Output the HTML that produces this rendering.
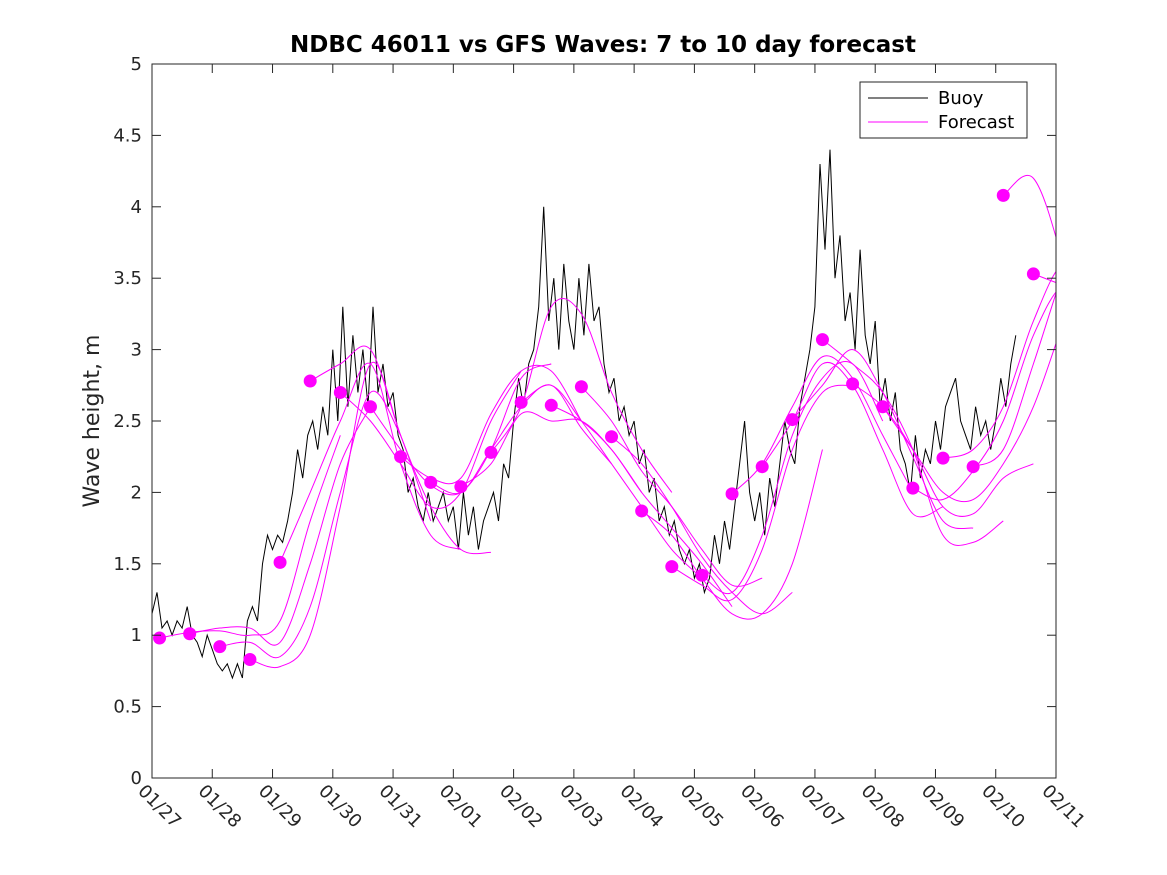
<!DOCTYPE html>
<html><head><meta charset="utf-8"><style>
body{margin:0;background:#fff;}
svg{display:block;font-family:"DejaVu Sans","Liberation Sans",sans-serif;}
</style></head><body>
<svg id="chart" width="1167" height="875" viewBox="0 0 1167 875">
<rect width="1167" height="875" fill="#fff"/>
<defs><clipPath id="plotclip"><rect x="152" y="64" width="904" height="714"/></clipPath></defs>
<rect x="152" y="64" width="904" height="714" fill="#fff"/>
<g id="series" clip-path="url(#plotclip)"></g>
<g id="axes"></g>
<text x="603" y="52" text-anchor="middle" font-size="23" font-weight="bold" fill="#000">NDBC 46011 vs GFS Waves: 7 to 10 day forecast</text>
<text transform="translate(99,421) rotate(-90)" text-anchor="middle" font-size="22" fill="#262626">Wave height, m</text>
<g>
<rect x="860" y="82" width="167" height="56" fill="#fff" stroke="#262626" stroke-width="1"/>
<line x1="868" y1="98" x2="928" y2="98" stroke="#000" stroke-width="1"/>
<text x="938" y="104" font-size="18" fill="#000">Buoy</text>
<line x1="868" y1="122" x2="928" y2="122" stroke="#ff00ff" stroke-width="1"/>
<text x="938" y="128" font-size="18" fill="#000">Forecast</text>
</g>
</svg>
<script>
// ---- data ----
const xTickLabels = ["01/27","01/28","01/29","01/30","01/31","02/01","02/02","02/03","02/04","02/05","02/06","02/07","02/08","02/09","02/10","02/11"];
const yTicks = [0,0.5,1,1.5,2,2.5,3,3.5,4,4.5,5];
const yTickLabels = ["0","0.5","1","1.5","2","2.5","3","3.5","4","4.5","5"];
const buoyStep = 1/12; // days
const buoyValues = [
1.15,1.3,1.05,1.1,1.0,1.1,1.05,1.2,1.0,0.95,0.85,1.0,
0.9,0.8,0.75,0.8,0.7,0.8,0.7,1.1,1.2,1.1,1.5,1.7,
1.6,1.7,1.65,1.8,2.0,2.3,2.1,2.4,2.5,2.3,2.6,2.4,
3.0,2.5,3.3,2.6,3.1,2.7,3.0,2.6,3.3,2.7,2.9,2.6,
2.7,2.4,2.3,2.0,2.1,1.9,1.8,2.0,1.8,1.9,2.0,1.8,
1.9,1.6,2.0,1.7,1.9,1.6,1.8,1.9,2.0,1.8,2.2,2.1,
2.5,2.8,2.6,2.9,3.0,3.3,4.0,3.2,3.5,3.0,3.6,3.2,
3.0,3.5,3.1,3.6,3.2,3.3,2.9,2.7,2.8,2.5,2.6,2.4,
2.5,2.2,2.3,2.0,2.1,1.8,1.9,1.7,1.8,1.6,1.5,1.6,
1.4,1.5,1.3,1.4,1.7,1.5,1.8,1.6,1.9,2.2,2.5,2.0,
1.8,2.0,1.7,2.1,1.9,2.2,2.5,2.3,2.2,2.6,2.8,3.0,
3.3,4.3,3.7,4.4,3.5,3.8,3.2,3.4,3.0,3.7,3.1,2.9,
3.2,2.6,2.8,2.5,2.7,2.3,2.2,2.0,2.4,2.1,2.3,2.2,
2.5,2.3,2.6,2.7,2.8,2.5,2.4,2.3,2.6,2.4,2.5,2.3,
2.5,2.8,2.6,2.9,3.1];
const forecastStarts = [0.125,0.625,1.125,1.625,2.125,2.625,3.125,3.625,4.125,4.625,5.125,5.625,6.125,6.625,7.125,7.625,8.125,8.625,9.125,9.625,10.125,10.625,11.125,11.625,12.125,12.625,13.125,13.625,14.125,14.625];
const forecastStep = 0.5;
const forecastValues = [
[0.98,1.02,1.03,1.0,1.1,1.8,2.4],
[1.01,1.05,1.05,0.95,1.5,2.2,2.6],
[0.92,0.95,0.85,1.2,2.0,2.7,2.4],
[0.83,0.78,1.0,1.9,2.9,2.4,1.8],
[1.51,2.0,2.5,2.9,2.2,1.7,1.6],
[2.78,2.9,3.0,2.4,1.9,1.6,1.58],
[2.70,2.5,2.2,1.9,2.0,2.5,2.85],
[2.60,2.3,2.05,2.0,2.3,2.8,2.9],
[2.25,2.1,2.1,2.55,2.85,2.85,2.5],
[2.07,2.0,2.3,2.6,2.75,2.45,2.2],
[2.04,2.2,2.55,2.5,2.5,2.3,2.0],
[2.28,2.6,3.3,3.25,2.7,2.3,2.0],
[2.63,2.75,2.5,2.2,1.9,1.6,1.4],
[2.61,2.5,2.3,2.0,1.75,1.5,1.2],
[2.74,2.5,2.15,1.9,1.6,1.35,1.4],
[2.39,2.2,1.9,1.55,1.3,1.15,1.3],
[1.87,1.7,1.4,1.15,1.15,1.5,2.3],
[1.48,1.35,1.25,1.6,2.3,2.7,2.75],
[1.42,1.3,1.7,2.4,2.8,2.9,2.5],
[1.99,2.2,2.6,2.95,2.8,2.4,2.0],
[2.18,2.5,2.9,2.75,2.3,1.85,1.9],
[2.51,2.75,3.0,2.7,2.25,1.8,1.75],
[3.07,2.9,2.7,2.3,1.7,1.65,1.8],
[2.76,2.6,2.3,1.9,1.85,2.1,2.2],
[2.60,2.3,2.0,1.95,2.2,2.6,3.2],
[2.03,1.95,2.15,2.5,3.1,3.45,3.3],
[2.24,2.3,2.6,3.2,3.6,3.4,3.3],
[2.18,2.3,2.9,3.55,4.1,3.5,3.0],
[4.08,4.2,3.6,2.7],
[3.53,3.45,3.38]];
// ---- scales ----
const X0=152,X1=1056,Y0=778,Y1=64;
const xs=d=>X0+(X1-X0)*d/15;
const ys=v=>Y0-(Y0-Y1)*v/5;
const NS="http://www.w3.org/2000/svg";
function mk(tag,attrs,parent){const e=document.createElementNS(NS,tag);for(const k in attrs)e.setAttribute(k,attrs[k]);parent.appendChild(e);return e;}
const series=document.getElementById('series');
const axes=document.getElementById('axes');
// buoy
let bp=buoyValues.map((v,i)=>(i?'L':'M')+xs(i*buoyStep).toFixed(1)+','+ys(v).toFixed(1)).join('');
const buoy=mk('path',{d:bp,fill:'none',stroke:'#000','stroke-width':1,'stroke-linejoin':'miter'},series);


// forecasts
function smooth(pts){let d='M'+pts[0][0]+','+pts[0][1];for(let i=0;i<pts.length-1;i++){const p0=pts[i-1]||pts[i],p1=pts[i],p2=pts[i+1],p3=pts[i+2]||p2;const c1=[p1[0]+(p2[0]-p0[0])/6,p1[1]+(p2[1]-p0[1])/6],c2=[p2[0]-(p3[0]-p1[0])/6,p2[1]-(p3[1]-p1[1])/6];d+='C'+c1.join(',')+' '+c2.join(',')+' '+p2.join(',');}return d;}
forecastValues.forEach((vals,k)=>{
  const pts=vals.map((v,j)=>[xs(forecastStarts[k]+j*forecastStep),ys(v)]);
  const p=mk('path',{d:smooth(pts),fill:'none',stroke:'#ff00ff','stroke-width':1},series);
  
  
});
forecastValues.forEach((vals,k)=>{
  const c=mk('circle',{cx:xs(forecastStarts[k]),cy:ys(vals[0]),r:6.5,fill:'#ff00ff'},series);
  
  
});
// axes box
const box=mk('rect',{x:X0,y:Y1,width:X1-X0,height:Y0-Y1,fill:'none',stroke:'#262626','stroke-width':1},axes);


yTicks.forEach((v,i)=>{
  const y=ys(v);
  mk('line',{x1:X0,y1:y,x2:X0+9,y2:y,stroke:'#262626'},axes);
  mk('line',{x1:X1,y1:y,x2:X1-9,y2:y,stroke:'#262626'},axes);
  const t=mk('text',{x:X0-10,y:y+6,'text-anchor':'end','font-size':18,fill:'#262626'},axes);
  t.textContent=yTickLabels[i];
  
  
});
xTickLabels.forEach((lab,i)=>{
  const x=xs(i);
  mk('line',{x1:x,y1:Y0,x2:x,y2:Y0-9,stroke:'#262626'},axes);
  mk('line',{x1:x,y1:Y1,x2:x,y2:Y1+9,stroke:'#262626'},axes);
  const t=mk('text',{x:0,y:0,transform:'translate('+(x-15)+','+(Y0+14)+') rotate(45)','font-size':18,fill:'#262626'},axes);
  t.textContent=lab;
  
  
});
</script>
</body></html>
